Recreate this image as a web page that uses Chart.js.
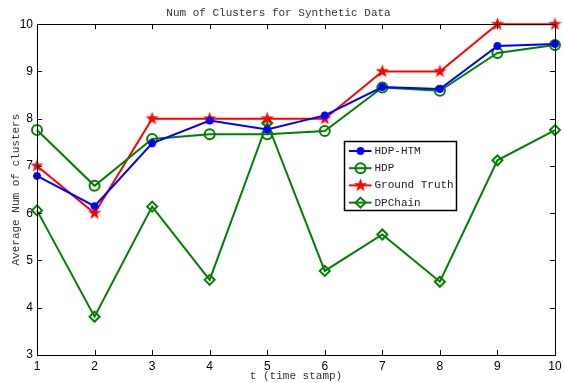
<!DOCTYPE html>
<html>
<head>
<meta charset="utf-8">
<script src="https://cdn.jsdelivr.net/npm/chart.js@4.4.1/dist/chart.umd.min.js"></script>
<style>
  html, body { margin: 0; padding: 0; background: #fff; }
  #wrap { width: 564px; height: 383px; }
</style>
</head>
<body>
<div id="wrap"><canvas id="myChart"></canvas></div>
<script>
// values
var timeStamps = [1, 2, 3, 4, 5, 6, 7, 8, 9, 10];
var hdpHtm = [6.79, 6.15, 7.48, 7.96, 7.77, 8.07, 8.67, 8.63, 9.54, 9.58];
var hdp = [7.76, 6.58, 7.57, 7.67, 7.67, 7.74, 8.66, 8.59, 9.39, 9.56];
var groundTruth = [7, 6, 8, 8, 8, 8, 9, 9, 10, 10];
var dpChain = [6.06, 3.81, 6.14, 4.59, 7.91, 4.78, 5.55, 4.55, 7.12, 7.76];
var yTicks = [3, 4, 5, 6, 7, 8, 9, 10];

function pts(vals) {
  return vals.map(function (v, i) { return { x: timeStamps[i], y: v }; });
}

// filled red pentagram marker
var star = document.createElement('canvas');
star.width = 15; star.height = 15;
(function () {
  var c = star.getContext('2d');
  c.beginPath();
  for (var i = 0; i < 10; i++) {
    var r = i % 2 === 0 ? 7 : 2.8;
    var a = -Math.PI / 2 + i * Math.PI / 5;
    var px = 7.5 + r * Math.cos(a), py = 7.5 + r * Math.sin(a);
    if (i === 0) c.moveTo(px, py); else c.lineTo(px, py);
  }
  c.closePath();
  c.fillStyle = '#ff0000';
  c.fill();
})();

var tickFont = { family: 'Liberation Sans', size: 12 };
var monoFont = { family: 'Liberation Mono', size: 11, weight: 'normal' };

// box, inward ticks and the legend, MATLAB style
var matlabBox = {
  id: 'matlabBox',
  afterDraw: function (chart) {
    var ctx = chart.ctx, ca = chart.chartArea;
    var xs = chart.scales.x, ys = chart.scales.y;
    ctx.save();
    ctx.strokeStyle = '#000';
    ctx.lineWidth = 1;
    ctx.strokeRect(Math.round(ca.left) + 0.5, Math.round(ca.top) + 0.5,
      Math.round(ca.right - ca.left), Math.round(ca.bottom - ca.top));
    ctx.beginPath();
    timeStamps.forEach(function (t) {
      var px = Math.round(xs.getPixelForValue(t)) + 0.5;
      ctx.moveTo(px, ca.bottom); ctx.lineTo(px, ca.bottom - 5);
      ctx.moveTo(px, ca.top); ctx.lineTo(px, ca.top + 5);
    });
    yTicks.forEach(function (v) {
      var py = Math.round(ys.getPixelForValue(v)) + 0.5;
      ctx.moveTo(ca.left, py); ctx.lineTo(ca.left + 5, py);
      ctx.moveTo(ca.right, py); ctx.lineTo(ca.right - 5, py);
    });
    ctx.stroke();

    // legend
    var lx = Math.round(ca.right - 211) + 0.5, ly = Math.round(ca.top + 117) + 0.5;
    ctx.fillStyle = '#fff';
    ctx.fillRect(lx, ly, 112, 69);
    ctx.strokeStyle = '#000';
    ctx.lineWidth = 1.5;
    ctx.strokeRect(lx, ly, 112, 69);
    ctx.font = '11px "Liberation Mono"';
    ctx.textBaseline = 'middle';
    chart.data.datasets.forEach(function (ds, i) {
      var yy = ly + 9.5 + i * 17.2;
      ctx.strokeStyle = ds.borderColor;
      ctx.lineWidth = 2;
      ctx.beginPath();
      ctx.moveTo(lx + 4.5, yy); ctx.lineTo(lx + 27, yy);
      ctx.stroke();
      ctx.fillStyle = ds.backgroundColor;
      ctx.strokeStyle = ds.borderColor;
      ctx.lineWidth = ds.pointBorderWidth || 2;
      Chart.helpers.drawPoint(ctx, {
        pointStyle: ds.pointStyle, radius: ds.pointRadius, rotation: 0,
        borderWidth: ds.pointBorderWidth || 2
      }, lx + 16, yy);
      ctx.fillStyle = '#222';
      ctx.fillText(ds.label, lx + 30, yy);
    });
    ctx.restore();
  }
};

var ctx = document.getElementById('myChart').getContext('2d');
var chart = new Chart(ctx, {
  type: 'line',
  data: {
    datasets: [
      {
        label: 'HDP-HTM',
        data: pts(hdpHtm),
        borderColor: '#0000ff',
        backgroundColor: '#0000ff',
        pointStyle: 'star',
        pointRadius: 4,
        pointBorderWidth: 2.5,
        borderWidth: 2,
      },
      {
        label: 'HDP',
        data: pts(hdp),
        borderColor: '#008000',
        backgroundColor: 'rgba(0,0,0,0)',
        pointStyle: 'circle',
        pointRadius: 5,
        pointBorderWidth: 2,
        borderWidth: 2,
      },
      {
        label: 'Ground Truth',
        data: pts(groundTruth),
        borderColor: '#ff0000',
        backgroundColor: '#ff0000',
        pointStyle: star,
        pointRadius: 7,
        borderWidth: 2,
      },
      {
        label: 'DPChain',
        data: pts(dpChain),
        borderColor: '#008000',
        backgroundColor: 'rgba(0,0,0,0)',
        pointStyle: 'rectRot',
        pointRadius: 5,
        pointBorderWidth: 2,
        borderWidth: 2,
      },
    ],
  },
  options: {
    responsive: true,
    maintainAspectRatio: false,
    animation: false,
    clip: false,
    layout: { padding: { left: 0, right: 7, top: 0, bottom: 0 } },
    elements: { line: { tension: 0 } },
    plugins: {
      legend: { display: false },
      tooltip: { enabled: false },
      title: {
        display: true,
        text: 'Num of Clusters for Synthetic Data',
        font: monoFont,
        color: '#333',
        padding: { top: 6, bottom: 5 },
      },
    },
    scales: {
      x: {
        type: 'linear',
        min: 1,
        max: 10,
        ticks: { stepSize: 1, font: tickFont, color: '#000', padding: 4, maxRotation: 0 },
        grid: { display: false, drawTicks: false },
        border: { display: false },
        title: { display: true, text: 't (time stamp)', font: monoFont, color: '#333', padding: 0 },
        afterFit: function (s) { s.height = 28; s.paddingLeft = 0; s.paddingRight = 0; },
      },
      y: {
        min: 3,
        max: 10,
        ticks: { stepSize: 1, font: tickFont, color: '#000', padding: 4 },
        grid: { display: false, drawTicks: false },
        border: { display: false },
        title: { display: true, text: 'Average Num of clusters', font: monoFont, color: '#333', padding: { top: 9 } },
        afterFit: function (s) { s.width = 37; s.paddingTop = 0; s.paddingBottom = 0; },
      },
    },
  },
  plugins: [matlabBox],
});
</script>
</body>
</html>
